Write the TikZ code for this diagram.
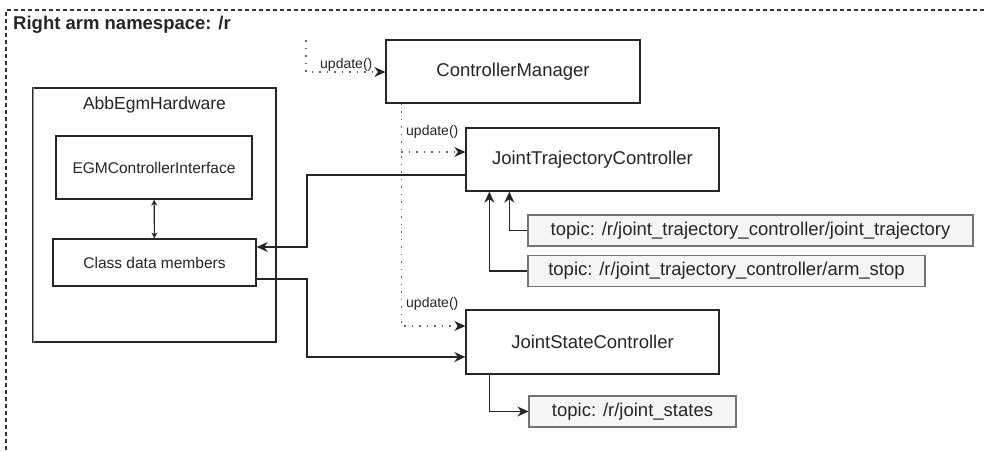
\documentclass[tikz,border=0pt]{standalone}
\usepackage{fontspec}
\setmainfont{Liberation Sans}
\usetikzlibrary{arrows.meta}

\begin{document}
\begin{tikzpicture}[x=1pt, y=-1pt,
   every node/.style={font=\fontsize{18.5}{20}\selectfont, text=black!85, inner sep=0pt},
   block/.style={draw=black!85, line width=1.3pt, fill=white},
   small/.style={block, font=\fontsize{15.5}{17}\selectfont},
   topic/.style={draw=black!55, line width=1.1pt, fill=black!4, minimum height=31pt},
   wire/.style={line width=1.4pt, draw=black!85, -{Stealth[length=11pt,width=10pt,inset=3.5pt]}},
   upd/.style={line width=1.2pt, draw=black!60, dash pattern=on 1.5pt off 6pt,
               -{Stealth[length=11pt,width=10pt,inset=3.5pt,black!85]}},
   call/.style={font=\fontsize{14}{16}\selectfont, anchor=west}]

\useasboundingbox (0,0) rectangle (984,451);

% namespace frame
\draw[black!80, line width=1.2pt, dash pattern=on 4pt off 3pt] (984,10) -| (6,451);
\node[anchor=west, font=\bfseries\fontsize{18.5}{20}\selectfont] (ns) at (13,25) {Right arm namespace: /r};

% hardware side
\node[block, minimum width=243pt, minimum height=254pt] (hw) at (154.5,215) {};
\draw[black!40, line width=1pt] ([xshift=1.6pt]hw.north west) -- ([xshift=1.6pt]hw.south west);
\node[font=\fontsize{17.5}{19}\selectfont] (hwname) at (154.5,105) {AbbEgmHardware};
\node[small, minimum width=196pt, minimum height=63pt] (egm) at (154,167.5) {EGMControllerInterface};
\node[small, minimum width=203pt, minimum height=47pt] (cdm) at (154.5,262.5) {Class data members};

% controllers
\node[block, minimum width=254pt, minimum height=63pt] (cm) at (513,71.5) {ControllerManager};
\node[block, minimum width=253pt, minimum height=63pt] (jtc) at (592.5,159.5) {JointTrajectoryController};
\node[block, minimum width=253pt, minimum height=64pt] (jsc) at (592.5,342) {JointStateController};

% topics
\node[topic, minimum width=445pt] (tjt) at (750.5,230.5) {topic: /r/joint\_trajectory\_controller/joint\_trajectory};
\node[topic, minimum width=397pt] (tas) at (726.5,271) {topic: /r/joint\_trajectory\_controller/arm\_stop};
\node[topic, minimum width=207pt] (tjs) at (632.5,411.5) {topic: /r/joint\_states};

% update() calls
\coordinate (tick) at (306,40);
\draw[upd] (tick) |- ([yshift=-0.5pt]cm.west);
\node[call] (u1) at (320,65) {update()};
\draw[upd] ([xshift=16pt]cm.south west) |- ([yshift=16pt]jsc.west);
\draw[upd] ([xshift=16pt]cm.south west |- jtc.west) ++(0,-7.5) -- ([yshift=7.5pt]jtc.west);
\node[call] (u2) at (406,132) {update()};
\node[call] (u3) at (406,304) {update()};

% data flow
\draw[line width=1.1pt, black!85, {Stealth[length=6pt,width=6pt]}-{Stealth[length=6pt,width=6pt]}] (egm) -- (cdm);
\draw[wire] ([yshift=-15.5pt]jtc.west) -| (307,247) -- ([yshift=15.5pt]cdm.east);
\draw[wire] ([yshift=-16.5pt]cdm.east) -| (307,357) -- ([yshift=-15pt]jsc.west);
\draw[wire] (tjt.west) -| ([xshift=44pt]jtc.south west);
\draw[wire] (tas.west) -| ([xshift=24pt]jtc.south west);
\draw[wire] ([xshift=24pt]jsc.south west) |- (tjs.west);

\end{tikzpicture}
\end{document}
